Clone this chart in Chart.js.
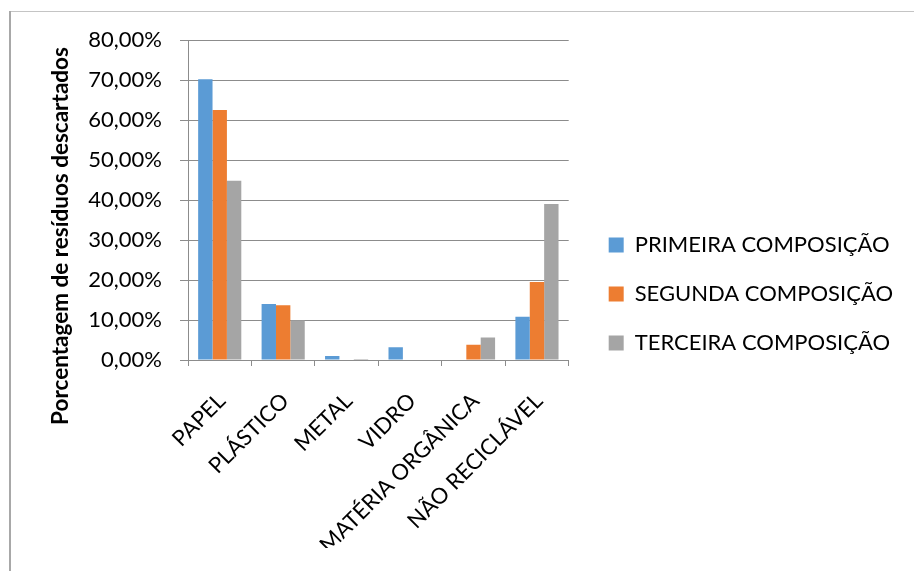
<!DOCTYPE html>
<html>
<head>
<meta charset="utf-8">
<script src="https://cdn.jsdelivr.net/npm/chart.js@4.4.1/dist/chart.umd.min.js"></script>
<style>
  html, body { margin: 0; padding: 0; background: #ffffff; }
  #wrap { position: relative; width: 914px; height: 571px; }
  canvas { display: block; }
</style>
</head>
<body>
<div id="wrap"><canvas id="chart" width="914" height="571"></canvas></div>
<script>
// Waste categories (x axis)
const categories = ['PAPEL', 'PLÁSTICO', 'METAL', 'VIDRO', 'MATÉRIA ORGÂNICA', 'NÃO RECICLÁVEL'];

// Share of discarded waste per composition, in percent
const primeira = [70.2, 14.0, 1.0, 3.2, 0.1, 10.8];
const segunda  = [62.5, 13.7, 0.0, 0.0, 3.8, 19.5];
const terceira = [44.8,  9.9, 0.25, 0.0, 5.6, 39.0];

const seriesNames = ['PRIMEIRA COMPOSIÇÃO', 'SEGUNDA COMPOSIÇÃO', 'TERCEIRA COMPOSIÇÃO'];
const seriesColors = ['#5b9bd5', '#ed7d31', '#a5a5a5'];

// Y axis range, in percent
const yMin = 0;
const yMax = 80;
const yStep = 10;

const yTitle = 'Porcentagem de resíduos descartados';

const FONT = 'Lato, "Open Sans", sans-serif';
const AXIS_GRAY = '#8c8c8c';

// Frame around the chart object and the vertical axis title
const decorPlugin = {
  id: 'decor',
  beforeDraw(chart) {
    const ctx = chart.ctx;
    ctx.save();
    ctx.fillStyle = '#ffffff';
    ctx.fillRect(0, 0, chart.width, chart.height);
    ctx.strokeStyle = '#c4c4c4';
    ctx.lineWidth = 1;
    ctx.beginPath();
    ctx.moveTo(10, 11.5);
    ctx.lineTo(chart.width, 11.5);
    ctx.stroke();
    ctx.strokeStyle = '#a8a8a8';
    ctx.lineWidth = 2;
    ctx.beginPath();
    ctx.moveTo(10, 11);
    ctx.lineTo(10, chart.height);
    ctx.stroke();
    ctx.restore();
  },
  afterDraw(chart) {
    const ctx = chart.ctx;
    ctx.save();
    ctx.translate(61, 236);
    ctx.rotate(-Math.PI / 2);
    ctx.font = 'bold 22.5px ' + FONT;
    ctx.fillStyle = '#000000';
    ctx.textAlign = 'center';
    ctx.textBaseline = 'middle';
    ctx.fillText(yTitle, 0, 0);
    ctx.restore();
  }
};

const datasets = [primeira, segunda, terceira].map((vals, i) => ({
  label: seriesNames[i],
  data: vals,
  backgroundColor: seriesColors[i],
  borderWidth: 0,
  categoryPercentage: 0.68,
  barPercentage: 1.0,
  yAxisID: 'y'
}));

new Chart(document.getElementById('chart'), {
  type: 'bar',
  data: { labels: categories, datasets },
  options: {
    responsive: false,
    animation: false,
    devicePixelRatio: 1,
    layout: { padding: { left: 20, top: 40, right: 11, bottom: 23 } },
    plugins: {
      legend: {
        position: 'right',
        align: 'center',
        maxWidth: 400,
        labels: {
          boxWidth: 15,
          boxHeight: 15,
          padding: 27,
          color: '#000000',
          font: { family: FONT, size: 22 }
        }
      },
      tooltip: { enabled: false },
      title: { display: false }
    },
    scales: {
      x: {
        grid: {
          display: true,
          drawOnChartArea: false,
          drawTicks: true,
          tickLength: 6,
          color: AXIS_GRAY,
          offset: true
        },
        border: { display: true, color: AXIS_GRAY, width: 1 },
        ticks: {
          color: '#000000',
          font: { family: FONT, size: 22 },
          minRotation: 45,
          maxRotation: 45,
          autoSkip: false,
          padding: 22,
          labelOffset: 2
        },
        afterFit(scale) { scale.height = 188; }
      },
      y: {
        min: yMin,
        max: yMax,
        grid: {
          color: AXIS_GRAY,
          drawTicks: true,
          tickLength: 8
        },
        border: { display: true, color: AXIS_GRAY, width: 1 },
        ticks: {
          stepSize: yStep,
          color: '#000000',
          font: { family: FONT, size: 22 },
          padding: 18,
          callback: v => v.toFixed(2).replace('.', ',') + '%'
        },
        afterFit(scale) { scale.width = 168; }
      },
      gap: {
        type: 'linear',
        position: 'right',
        display: true,
        grid: { display: false },
        border: { display: false },
        ticks: { display: false },
        afterFit(scale) { scale.width = 13; }
      }
    }
  },
  plugins: [decorPlugin]
});
</script>
</body>
</html>
